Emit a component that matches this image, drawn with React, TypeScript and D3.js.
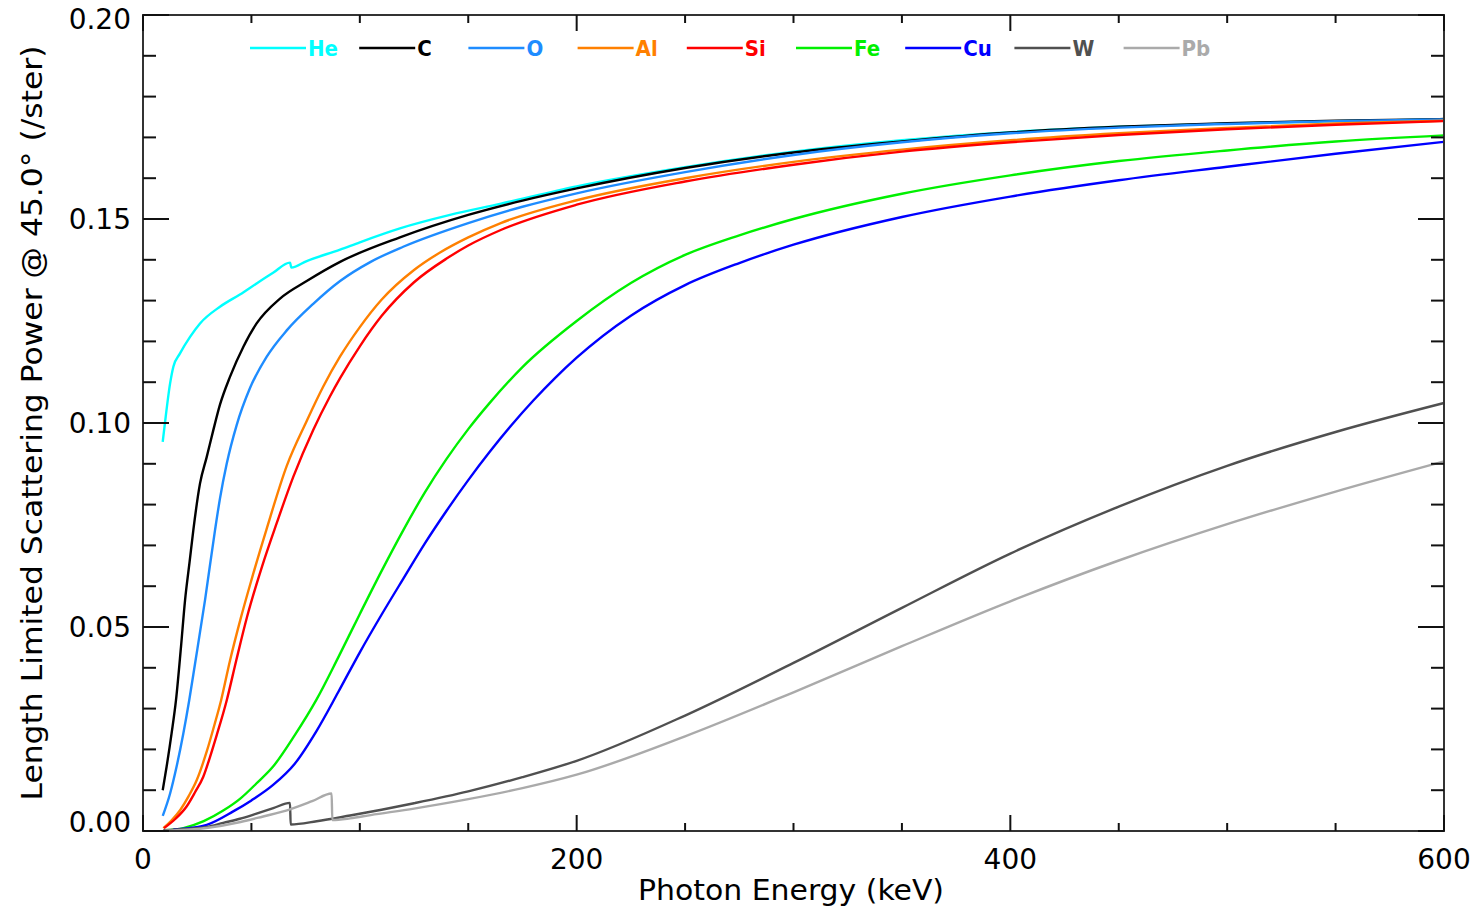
import React from "react";
import * as d3 from "d3";

type P = [number, number];

const heData: P[] = [[9.1,0.0954],[10.1,0.0999],[12.5,0.1097],[14,0.1138],[17,0.117],[21.7,0.1211],[26.3,0.1244],[35.5,0.1285],[44.7,0.1315],[52.4,0.1342],[60,0.1368],[67.8,0.1393],[68.4,0.1381],[75.5,0.1397],[90.9,0.1425],[100,0.1443],[118.5,0.1477],[141.6,0.151],[164.6,0.1537],[200,0.158],[250,0.1627],[300,0.1665],[350,0.1693],[400,0.1713],[450,0.1726],[500,0.1734],[550,0.174],[600,0.1744]];
const cData: P[] = [[9.1,0.01],[10.9,0.0158],[13.2,0.024],[15.2,0.032],[17.5,0.045],[19.4,0.0566],[21.5,0.066],[23.2,0.0737],[26.3,0.0852],[29.4,0.0917],[32.4,0.0982],[35.5,0.1045],[40.1,0.1113],[46.3,0.1187],[52.4,0.1244],[63.2,0.1305],[75.5,0.1348],[90.9,0.1395],[118.5,0.1455],[150,0.151],[175,0.1545],[200,0.1575],[250,0.1625],[300,0.1663],[350,0.169],[400,0.1712],[450,0.1726],[500,0.1735],[550,0.1741],[600,0.1745]];
const oData: P[] = [[9.1,0.0037],[12.5,0.0092],[15.5,0.0158],[18.6,0.0239],[21.3,0.032],[24,0.041],[28.6,0.0566],[33.2,0.0737],[35.5,0.0815],[38.6,0.09],[43.2,0.0995],[49.3,0.1085],[57,0.1162],[66.3,0.1227],[78.5,0.1292],[90.9,0.1348],[105,0.1395],[120,0.1432],[150,0.149],[175,0.153],[200,0.1563],[250,0.1615],[300,0.1657],[350,0.1688],[400,0.171],[450,0.1724],[500,0.1733],[550,0.174],[600,0.1744]];
const alData: P[] = [[9.4,0.0007],[13,0.0025],[17.1,0.0051],[21,0.0085],[24.8,0.0125],[29.4,0.0195],[33.2,0.0265],[36,0.032],[40,0.0415],[45,0.052],[50,0.0615],[57,0.074],[66.3,0.0895],[75.5,0.1005],[83.2,0.109],[90.9,0.1163],[100,0.1235],[110,0.1302],[125,0.1375],[137,0.1418],[150,0.1455],[165,0.149],[200,0.1546],[250,0.16],[300,0.164],[350,0.167],[400,0.1693],[450,0.171],[500,0.1723],[550,0.1734],[600,0.1741]];
const siData: P[] = [[9.7,0.0007],[15,0.003],[20.1,0.006],[24,0.0095],[27.8,0.0133],[31,0.0183],[34,0.0235],[38.6,0.032],[43,0.0418],[48,0.0525],[55,0.065],[61.7,0.0755],[69.3,0.0868],[78.5,0.0983],[86.2,0.1065],[90.9,0.111],[100,0.1188],[110,0.1262],[125,0.1345],[140,0.1403],[150,0.1435],[165,0.1473],[200,0.1535],[250,0.1592],[300,0.1633],[350,0.1665],[400,0.1688],[450,0.1706],[500,0.172],[550,0.1731],[600,0.174]];
const feData: P[] = [[10,0.0002],[18.6,0.0007],[28,0.0024],[37,0.005],[45,0.008],[52.4,0.0117],[60,0.0158],[70,0.0235],[80,0.0322],[90,0.0425],[100,0.0532],[110,0.0637],[120,0.0737],[130,0.083],[140,0.0912],[150,0.0985],[160,0.105],[175,0.1137],[200,0.125],[225,0.1343],[250,0.1412],[275,0.146],[300,0.15],[350,0.1562],[400,0.1607],[450,0.1642],[500,0.1668],[550,0.169],[600,0.1705]];
const cuData: P[] = [[14,0.0004],[20,0.0006],[29.4,0.0015],[41.6,0.0048],[50,0.0075],[60,0.0113],[70,0.0165],[80,0.0245],[90,0.034],[100,0.0438],[110,0.053],[120,0.0618],[130,0.0705],[140,0.0785],[150,0.086],[160,0.093],[170,0.0995],[180,0.1055],[190,0.111],[200,0.116],[225,0.1263],[250,0.1338],[275,0.1392],[300,0.1437],[350,0.1505],[400,0.1555],[450,0.1595],[500,0.1628],[550,0.166],[600,0.1689]];
const wData: P[] = [[9.4,0.0002],[20,0.0005],[29.4,0.001],[37,0.002],[44.7,0.003],[52,0.0042],[60.1,0.0056],[67.8,0.0069],[68.1,0.0016],[80.1,0.0024],[95.5,0.0038],[110,0.0052],[125,0.0068],[150,0.0097],[175,0.0132],[200,0.0172],[250,0.0283],[300,0.0412],[350,0.0547],[400,0.068],[450,0.0795],[500,0.0895],[550,0.0978],[600,0.1049]];
const pbData: P[] = [[10,0.0001],[20,0.0003],[30,0.0008],[45,0.0022],[55,0.0035],[67.8,0.0053],[78,0.0073],[87,0.0092],[87.3,0.0027],[95.5,0.0031],[105,0.0039],[125,0.0055],[150,0.0078],[175,0.0105],[200,0.0138],[250,0.0232],[300,0.034],[350,0.0453],[400,0.0563],[450,0.0663],[500,0.0752],[550,0.0832],[600,0.0906]];

const elements = ["He", "C", "O", "Al", "Si", "Fe", "Cu", "W", "Pb"];
const colors = ["#00FFFF", "#000000", "#1E8CFF", "#FF8000", "#FF0000", "#00F000", "#0000FF", "#505050", "#AAAAAA"];
const seriesData = [heData, cData, oData, alData, siData, feData, cuData, wData, pbData];

const xMajorTicks = [0, 200, 400, 600];
const yMajorTicks = [0, 0.05, 0.1, 0.15, 0.2];

const W = 1479, H = 908;
const L = 143, R = 1444, T = 15, B = 831;

export default function App() {
  const x = d3.scaleLinear().domain([0, 600]).range([L, R]);
  const y = d3.scaleLinear().domain([0, 0.2]).range([B, T]);
  const line = d3.line<P>().x(d => x(d[0])).y(d => y(d[1])).curve(d3.curveMonotoneX);
  const xMinor = d3.range(0, 601, 50);
  const yMinor = d3.range(0, 0.2001, 0.01);
  const isMajX = (v: number) => xMajorTicks.some(m => Math.abs(m - v) < 1e-6);
  const isMajY = (v: number) => yMajorTicks.some(m => Math.abs(m - v) < 1e-6);
  const axisFont = "DejaVu Sans, Verdana, sans-serif";
  const narrowFont = "'DejaVu Sans Condensed', 'Liberation Sans Narrow', 'DejaVu Sans', sans-serif";
  return (
    <svg width={W} height={H} style={{ position: "absolute", left: 0, top: 0, background: "#fff" }}>
      <rect x={0} y={0} width={W} height={H} fill="#fff" />
      <g>
        {seriesData.map((d, i) => (
          <path key={i} d={line(d) || ""} fill="none" stroke={colors[i]} strokeWidth={2.4} strokeLinejoin="round" />
        ))}
      </g>
      <rect x={L} y={T} width={R - L} height={B - T} fill="none" stroke="#333" strokeWidth={2} />
      <g stroke="#111" strokeWidth={2}>
        {xMinor.map(v => {
          const len = isMajX(v) ? 16 : 8;
          return (
            <g key={"x" + v}>
              <line x1={x(v)} x2={x(v)} y1={B} y2={B - len} />
              <line x1={x(v)} x2={x(v)} y1={T} y2={T + len} />
            </g>
          );
        })}
        {yMinor.map(v => {
          const len = isMajY(v) ? 26 : 13;
          return (
            <g key={"y" + v.toFixed(3)}>
              <line x1={L} x2={L + len} y1={y(v)} y2={y(v)} />
              <line x1={R} x2={R - len} y1={y(v)} y2={y(v)} />
            </g>
          );
        })}
      </g>
      <g fontFamily={axisFont} fontSize={28} fill="#000">
        {xMajorTicks.map(v => (
          <text key={"xl" + v} x={x(v)} y={869} textAnchor="middle">{String(v)}</text>
        ))}
        {yMajorTicks.map(v => {
          const cy = Math.min(Math.max(y(v), 19), 822);
          return (
            <text key={"yl" + v} x={131} y={cy + 10} textAnchor="end">{v.toFixed(2)}</text>
          );
        })}
      </g>
      <text x={791} y={900} textAnchor="middle" fontFamily={narrowFont} fontSize={29} textLength={306} lengthAdjust="spacingAndGlyphs">Photon Energy (keV)</text>
      <text transform={`translate(42,${(T + B) / 2 + 0}) rotate(-90)`} textAnchor="middle" fontFamily={narrowFont} fontSize={29} textLength={755} lengthAdjust="spacingAndGlyphs">Length Limited Scattering Power @  45.0° (/ster)</text>
      <g>
        {elements.map((e, i) => {
          const x0 = 250 + i * 109.2;
          return (
            <g key={e}>
              <line x1={x0} x2={x0 + 56} y1={48} y2={48} stroke={colors[i]} strokeWidth={2.4} />
              <text x={x0 + 58} y={56} fill={colors[i]} fontFamily={narrowFont} fontSize={22} fontWeight="bold">{e}</text>
            </g>
          );
        })}
      </g>
    </svg>
  );
}
